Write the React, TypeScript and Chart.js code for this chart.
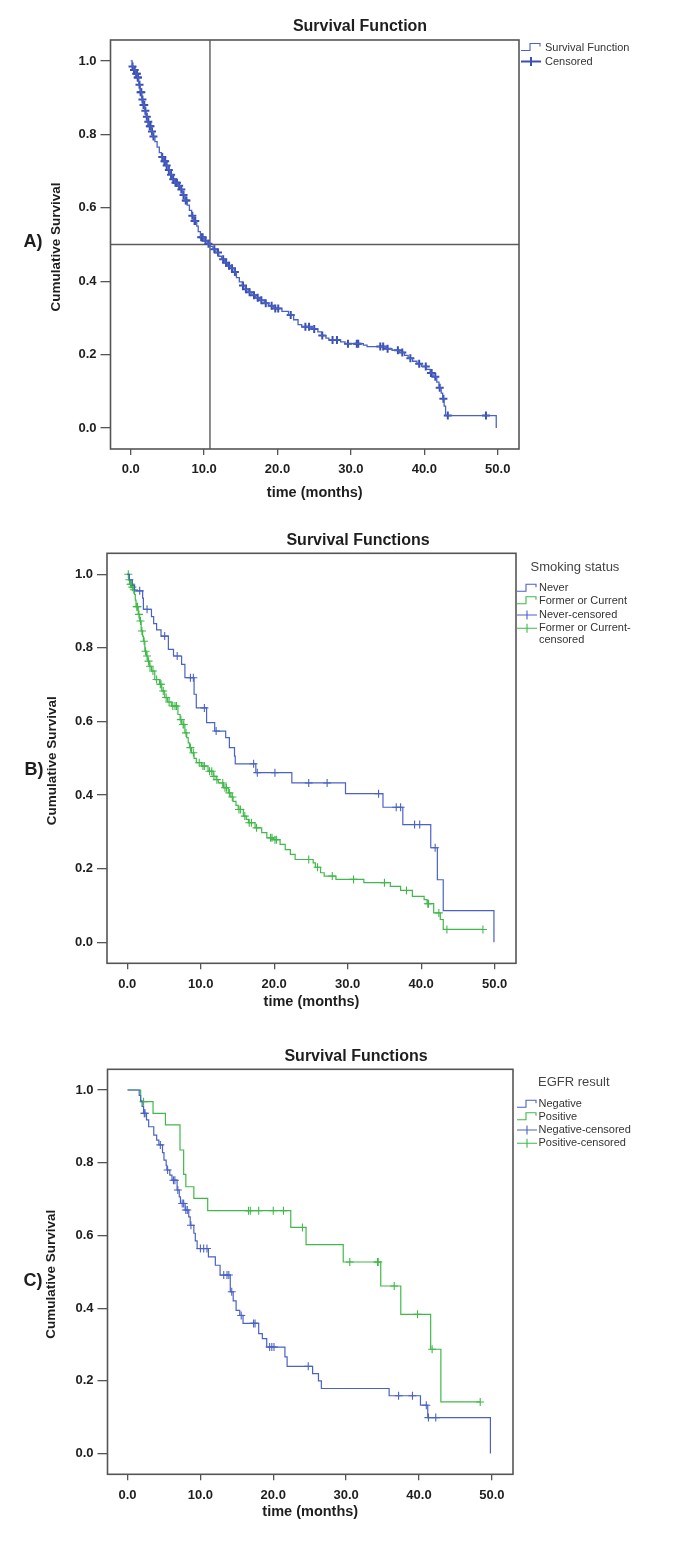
import React, { useEffect, useRef } from "react";
import { Chart, registerables } from "chart.js";

Chart.register(...registerables);

const FONT = "Arial, 'Liberation Sans', Helvetica, sans-serif";

// ---------- shared axes ----------
const xTickValues = [0, 10, 20, 30, 40, 50];
const yTickValues = [0, 0.2, 0.4, 0.6, 0.8, 1.0];
const xMin = -2.75;
const xMax = 52.9;
const yMin = -0.057;
const yMax = 1.057;

// ---------- Panel A: overall survival ----------
const aTimes = [0, 0.2, 0.4, 0.7, 0.9, 1.1, 1.3, 1.5, 1.7, 1.9, 2.1, 2.3, 2.5, 2.8, 3.0, 3.3, 3.6, 3.9, 4.2, 4.5, 4.8, 5.1, 5.4, 5.7, 6.0, 6.4, 6.8, 7.1, 7.4, 7.7, 8.0, 8.3, 8.6, 9.0, 9.2, 9.5, 10.0, 10.5, 10.8, 11.2, 11.6, 12.0, 12.4, 12.8, 13.2, 13.7, 14.1, 14.4, 14.8, 15.2, 15.6, 16.0, 16.5, 17.0, 17.6, 18.2, 18.8, 19.5, 20.6, 21.5, 22.2, 22.8, 23.3, 24.7, 25.5, 26.0, 26.6, 27.0, 28.6, 29.2, 31.7, 32.2, 34.8, 35.6, 36.6, 37.3, 37.8, 38.4, 39.0, 39.6, 40.3, 40.8, 41.2, 41.7, 42.0, 42.3, 42.5, 42.7, 42.9, 49.8];
const aSurv = [1.0, 0.985, 0.975, 0.965, 0.955, 0.935, 0.915, 0.895, 0.88, 0.864, 0.848, 0.834, 0.822, 0.808, 0.794, 0.78, 0.765, 0.75, 0.738, 0.727, 0.715, 0.703, 0.69, 0.678, 0.668, 0.66, 0.65, 0.635, 0.62, 0.607, 0.593, 0.578, 0.564, 0.55, 0.535, 0.52, 0.51, 0.502, 0.495, 0.487, 0.478, 0.468, 0.46, 0.45, 0.442, 0.435, 0.425, 0.41, 0.398, 0.388, 0.378, 0.37, 0.362, 0.355, 0.348, 0.34, 0.333, 0.326, 0.318, 0.308, 0.295, 0.282, 0.276, 0.27, 0.262, 0.252, 0.245, 0.24, 0.235, 0.23, 0.226, 0.222, 0.216, 0.212, 0.206, 0.198, 0.19, 0.182, 0.175, 0.168, 0.16, 0.15, 0.14, 0.125, 0.11, 0.095, 0.08, 0.06, 0.034, 0.0];
const aCensTimes = [0.25, 0.45, 0.55, 0.75, 0.85, 0.95, 1.0, 1.2, 1.35, 1.45, 1.6, 1.75, 1.85, 2.0, 2.2, 2.4, 2.6, 2.7, 2.9, 3.1, 4.3, 4.6, 4.7, 4.9, 5.2, 5.5, 5.8, 6.1, 6.3, 6.6, 6.9, 7.2, 7.5, 7.6, 8.4, 8.7, 8.8, 9.6, 9.8, 10.2, 10.6, 11.4, 11.9, 12.6, 13.0, 13.4, 13.8, 14.2, 15.3, 15.7, 16.2, 16.8, 17.3, 17.8, 18.4, 19.2, 19.7, 20.1, 21.8, 23.8, 24.3, 25.0, 26.1, 27.5, 28.1, 29.6, 30.8, 31.0, 34.0, 34.4, 35.0, 36.4, 37.0, 38.1, 39.3, 40.2, 40.9, 41.0, 41.5, 42.1, 42.6, 43.2, 48.4];
const aCensSurv = [0.985, 0.975, 0.975, 0.965, 0.965, 0.955, 0.955, 0.935, 0.915, 0.915, 0.895, 0.88, 0.88, 0.864, 0.848, 0.834, 0.822, 0.822, 0.808, 0.794, 0.738, 0.727, 0.727, 0.715, 0.703, 0.69, 0.678, 0.668, 0.668, 0.66, 0.65, 0.635, 0.62, 0.62, 0.578, 0.564, 0.564, 0.52, 0.52, 0.51, 0.502, 0.487, 0.478, 0.46, 0.45, 0.442, 0.435, 0.425, 0.388, 0.378, 0.37, 0.362, 0.355, 0.348, 0.34, 0.333, 0.326, 0.326, 0.308, 0.276, 0.276, 0.27, 0.252, 0.24, 0.24, 0.23, 0.23, 0.23, 0.222, 0.222, 0.216, 0.212, 0.206, 0.19, 0.175, 0.168, 0.15, 0.15, 0.14, 0.11, 0.08, 0.034, 0.034];
const aMedianTime = 10.8;
const aMedianSurv = 0.5;

// ---------- Panel B: smoking status ----------
const bNeverTimes = [0, 0.3, 0.7, 1.0, 2.1, 2.2, 3.3, 3.6, 4.0, 4.6, 5.6, 6.3, 7.4, 7.85, 9.1, 9.4, 10.8, 11.9, 13.4, 13.9, 14.6, 14.7, 17.5, 22.4, 29.7, 34.8, 37.5, 41.3, 42.2, 43.0, 49.9];
const bNeverSurv = [1.0, 0.985, 0.97, 0.955, 0.935, 0.905, 0.885, 0.866, 0.849, 0.832, 0.796, 0.778, 0.755, 0.719, 0.674, 0.637, 0.597, 0.574, 0.556, 0.529, 0.506, 0.485, 0.461, 0.433, 0.404, 0.367, 0.32, 0.257, 0.17, 0.086, 0.0];
const bNeverCensTimes = [1.7, 2.7, 5.1, 6.8, 8.6, 9.0, 10.5, 12.1, 17.2, 17.7, 20.1, 24.7, 27.2, 34.2, 36.6, 37.2, 39.1, 39.8, 41.9];
const bNeverCensSurv = [0.955, 0.905, 0.832, 0.778, 0.719, 0.719, 0.637, 0.574, 0.485, 0.461, 0.461, 0.433, 0.433, 0.404, 0.367, 0.367, 0.32, 0.32, 0.257];
const bFormerTimes = [0, 0.2, 0.35, 0.6, 0.8, 1.0, 1.1, 1.2, 1.5, 1.7, 1.9, 2.1, 2.2, 2.4, 2.6, 2.8, 3.0, 3.3, 3.75, 4.4, 4.7, 5.1, 5.5, 6.0, 6.9, 7.2, 7.4, 7.85, 8.1, 8.3, 8.5, 8.75, 9.1, 9.4, 10.1, 11.0, 11.7, 12.1, 12.4, 13.1, 13.75, 14.1, 14.4, 14.8, 15.1, 15.8, 16.2, 16.5, 17.4, 18.3, 19.0, 19.9, 20.8, 21.5, 22.2, 22.85, 25.3, 25.6, 26.3, 26.8, 28.4, 32.2, 35.8, 37.2, 38.8, 40.4, 40.8, 41.7, 42.6, 43.0, 48.4];
const bFormerSurv = [1.0, 0.985, 0.973, 0.965, 0.958, 0.945, 0.93, 0.912, 0.891, 0.873, 0.846, 0.832, 0.818, 0.791, 0.778, 0.764, 0.75, 0.737, 0.714, 0.701, 0.683, 0.665, 0.653, 0.642, 0.619, 0.605, 0.592, 0.569, 0.556, 0.542, 0.529, 0.515, 0.5, 0.488, 0.479, 0.465, 0.451, 0.442, 0.433, 0.42, 0.406, 0.395, 0.383, 0.372, 0.361, 0.343, 0.334, 0.325, 0.311, 0.298, 0.284, 0.279, 0.266, 0.252, 0.239, 0.225, 0.216, 0.204, 0.189, 0.18, 0.171, 0.162, 0.152, 0.141, 0.125, 0.116, 0.105, 0.08, 0.062, 0.035, 0.035];
const bFormerCensTimes = [0.15, 0.3, 0.45, 0.55, 0.7, 0.9, 1.3, 1.4, 1.6, 1.8, 2.0, 2.3, 2.5, 2.7, 2.9, 3.1, 3.5, 4.0, 4.5, 4.6, 4.9, 5.3, 5.7, 6.2, 6.5, 6.7, 7.3, 7.6, 7.7, 8.0, 8.6, 9.0, 9.8, 10.3, 10.5, 11.2, 11.5, 11.8, 12.2, 13.0, 13.3, 13.5, 13.9, 14.3, 15.2, 15.4, 16.0, 16.6, 16.9, 17.6, 19.5, 19.7, 20.1, 20.3, 24.7, 25.9, 27.9, 30.8, 35.0, 38.0, 40.9, 41.0, 42.4, 43.5, 48.4];
const bFormerCensSurv = [1.0, 0.985, 0.973, 0.973, 0.965, 0.958, 0.912, 0.912, 0.891, 0.873, 0.846, 0.818, 0.791, 0.778, 0.764, 0.75, 0.737, 0.714, 0.701, 0.701, 0.683, 0.665, 0.653, 0.642, 0.642, 0.642, 0.605, 0.592, 0.592, 0.569, 0.529, 0.515, 0.488, 0.479, 0.479, 0.465, 0.465, 0.451, 0.442, 0.433, 0.42, 0.42, 0.406, 0.395, 0.361, 0.361, 0.343, 0.325, 0.325, 0.311, 0.284, 0.284, 0.279, 0.279, 0.225, 0.204, 0.18, 0.171, 0.162, 0.141, 0.105, 0.105, 0.08, 0.035, 0.035];

// ---------- Panel C: EGFR result ----------
const cNegTimes = [0, 1.6, 1.8, 2.0, 2.2, 2.6, 2.9, 3.6, 4.0, 4.3, 4.8, 5.0, 5.3, 5.4, 5.8, 6.1, 6.8, 7.1, 7.26, 7.9, 8.4, 8.6, 9.1, 9.3, 9.55, 11.1, 12.05, 12.7, 14.1, 14.5, 14.9, 15.4, 15.85, 18.0, 18.5, 19.1, 21.6, 21.9, 25.4, 26.2, 26.6, 35.9, 40.2, 41.2, 49.8];
const cNegSurv = [1.0, 0.985, 0.97, 0.955, 0.936, 0.918, 0.899, 0.876, 0.862, 0.849, 0.828, 0.807, 0.793, 0.78, 0.766, 0.752, 0.725, 0.706, 0.688, 0.67, 0.651, 0.628, 0.606, 0.585, 0.564, 0.541, 0.518, 0.491, 0.445, 0.42, 0.394, 0.38, 0.358, 0.33, 0.316, 0.293, 0.266, 0.24, 0.22, 0.2, 0.179, 0.159, 0.133, 0.099, 0.0];
const cNegCensTimes = [2.3, 2.4, 4.5, 5.5, 6.3, 6.5, 6.9, 7.5, 7.7, 8.0, 8.2, 8.7, 10.0, 10.45, 10.9, 13.2, 13.65, 13.9, 14.3, 15.6, 17.3, 17.5, 19.5, 19.8, 20.1, 24.8, 37.2, 39.1, 41.0, 41.3, 42.3];
const cNegCensSurv = [0.936, 0.936, 0.849, 0.78, 0.752, 0.752, 0.725, 0.688, 0.688, 0.67, 0.67, 0.628, 0.564, 0.564, 0.564, 0.491, 0.491, 0.491, 0.445, 0.38, 0.358, 0.358, 0.293, 0.293, 0.293, 0.24, 0.159, 0.159, 0.133, 0.099, 0.099];
const cPosTimes = [0, 1.8, 3.5, 5.2, 7.2, 7.7, 8.0, 9.1, 11.0, 22.4, 24.5, 29.6, 34.75, 37.5, 41.6, 43.0, 48.4];
const cPosSurv = [1.0, 0.968, 0.936, 0.904, 0.835, 0.768, 0.734, 0.702, 0.668, 0.622, 0.575, 0.527, 0.461, 0.383, 0.287, 0.142, 0.142];
const cPosCensTimes = [2.2, 16.6, 16.85, 18.0, 20.0, 21.4, 24.0, 30.5, 34.3, 34.4, 36.6, 39.8, 41.8, 48.4];
const cPosCensSurv = [0.968, 0.668, 0.668, 0.668, 0.668, 0.668, 0.622, 0.527, 0.527, 0.527, 0.461, 0.383, 0.287, 0.142];

// ---------- styling ----------
const BLUE = "#4a62c6";
const BLUE_DARK = "#3b50b2";
const GREEN = "#40b94a";
const AXIS_GRAY = "#555555";
const TEXT = "#1e1e1e";
const LEGEND_TEXT = "#333333";

type LegendEntry = { label: string; label2?: string; color: string; kind: "step" | "cross"; y: number; bold?: boolean };
type Panel = {
  key: string;
  top: number;
  height: number;
  area: { left: number; right: number; top: number; bottom: number };
  title: string;
  titleX: number;
  titleY: number;
  letter: string;
  letterX: number;
  letterY: number;
  yTitleX: number;
  xTitleY: number;
  legendTitle?: string;
  legendTitleX?: number;
  legendTitleY?: number;
  symX: number;
  textX: number;
  entries: LegendEntry[];
  datasets: any[];
  refLine?: { x: number; y: number };
};

function pts(t: number[], s: number[]) {
  return t.map((x, i) => ({ x, y: s[i] }));
}
// Kaplan-Meier step: hold the previous level until the next event time, then drop.
function stepDs(t: number[], s: number[], color: string, width: number) {
  return {
    data: pts(t, s),
    borderColor: color,
    borderWidth: width,
    stepped: "before",
    pointRadius: 0,
    fill: false,
    tension: 0,
    showLine: true,
  };
}
function censDs(t: number[], s: number[], color: string, width: number, radius: number) {
  return {
    data: pts(t, s),
    showLine: false,
    pointStyle: "cross",
    pointRadius: radius,
    pointBorderWidth: width,
    borderWidth: width,
    borderColor: color,
    backgroundColor: color,
    pointBorderColor: color,
  };
}

const panels: Panel[] = [
  {
    key: "A",
    top: 0,
    height: 520,
    area: { left: 110.5, right: 519, top: 40, bottom: 449 },
    title: "Survival Function",
    titleX: 360,
    titleY: 27,
    letter: "A)",
    letterX: 33,
    letterY: 242,
    yTitleX: 56,
    xTitleY: 493,
    symX: 521,
    textX: 545,
    entries: [
      { label: "Survival Function", color: BLUE, kind: "step", y: 47.5 },
      { label: "Censored", color: BLUE_DARK, kind: "cross", y: 61.5, bold: true },
    ],
    datasets: [
      stepDs(aTimes, aSurv, BLUE, 1.3),
      censDs(aCensTimes, aCensSurv, BLUE_DARK, 2, 4),
    ],
    refLine: { x: aMedianTime, y: aMedianSurv },
  },
  {
    key: "B",
    top: 520,
    height: 520,
    area: { left: 107, right: 516, top: 33.3, bottom: 443.3 },
    title: "Survival Functions",
    titleX: 358,
    titleY: 21,
    letter: "B)",
    letterX: 34,
    letterY: 250,
    yTitleX: 52,
    xTitleY: 482,
    legendTitle: "Smoking status",
    legendTitleX: 530.5,
    legendTitleY: 47.5,
    symX: 517,
    textX: 539,
    entries: [
      { label: "Never", color: BLUE, kind: "step", y: 68.3 },
      { label: "Former or Current", color: GREEN, kind: "step", y: 80.7 },
      { label: "Never-censored", color: BLUE, kind: "cross", y: 95 },
      { label: "Former or Current-", label2: "censored", color: GREEN, kind: "cross", y: 108.3 },
    ],
    datasets: [
      stepDs(bNeverTimes, bNeverSurv, BLUE, 1.2),
      stepDs(bFormerTimes, bFormerSurv, GREEN, 1.2),
      censDs(bNeverCensTimes, bNeverCensSurv, BLUE, 1.1, 4),
      censDs(bFormerCensTimes, bFormerCensSurv, GREEN, 1.1, 4),
    ],
  },
  {
    key: "C",
    top: 1040,
    height: 517,
    area: { left: 107.5, right: 513, top: 29.3, bottom: 434.3 },
    title: "Survival Functions",
    titleX: 356,
    titleY: 17,
    letter: "C)",
    letterX: 33,
    letterY: 241,
    yTitleX: 51,
    xTitleY: 472,
    legendTitle: "EGFR result",
    legendTitleX: 538,
    legendTitleY: 42.3,
    symX: 517,
    textX: 538.5,
    entries: [
      { label: "Negative", color: BLUE, kind: "step", y: 64.3 },
      { label: "Positive", color: GREEN, kind: "step", y: 76.7 },
      { label: "Negative-censored", color: BLUE, kind: "cross", y: 90 },
      { label: "Positive-censored", color: GREEN, kind: "cross", y: 103.3 },
    ],
    datasets: [
      stepDs(cNegTimes, cNegSurv, BLUE, 1.2),
      stepDs(cPosTimes, cPosSurv, GREEN, 1.2),
      censDs(cNegCensTimes, cNegCensSurv, BLUE, 1.1, 4),
      censDs(cPosCensTimes, cPosCensSurv, GREEN, 1.1, 4),
    ],
  },
];

function makeDecor(p: Panel) {
  return {
    id: "decor" + p.key,
    beforeDatasetsDraw(chart: any) {
      if (!p.refLine) return;
      const { ctx, chartArea: a, scales } = chart;
      const px = scales.x.getPixelForValue(p.refLine.x);
      const py = scales.y.getPixelForValue(p.refLine.y);
      ctx.save();
      ctx.strokeStyle = "#5c5c5c";
      ctx.lineWidth = 1.4;
      ctx.beginPath();
      ctx.moveTo(px, a.top);
      ctx.lineTo(px, a.bottom);
      ctx.moveTo(a.left, py);
      ctx.lineTo(a.right, py);
      ctx.stroke();
      ctx.restore();
    },
    afterDraw(chart: any) {
      const { ctx, chartArea: a } = chart;
      ctx.save();
      // frame
      ctx.strokeStyle = AXIS_GRAY;
      ctx.lineWidth = 1.6;
      ctx.strokeRect(a.left, a.top, a.right - a.left, a.bottom - a.top);

      // title
      ctx.fillStyle = TEXT;
      ctx.textAlign = "center";
      ctx.textBaseline = "middle";
      ctx.font = `bold 16px ${FONT}`;
      ctx.fillText(p.title, p.titleX, p.titleY);

      // x title
      ctx.font = `bold 14.5px ${FONT}`;
      ctx.fillText("time (months)", (a.left + a.right) / 2, p.xTitleY);

      // y title
      ctx.save();
      ctx.translate(p.yTitleX, (a.top + a.bottom) / 2 + 2.5);
      ctx.rotate(-Math.PI / 2);
      ctx.font = `bold 13.5px ${FONT}`;
      ctx.fillText("Cumulative Survival", 0, 0);
      ctx.restore();

      // panel letter
      ctx.font = `bold 18px ${FONT}`;
      ctx.fillText(p.letter, p.letterX, p.letterY);

      // legend
      ctx.textAlign = "left";
      if (p.legendTitle) {
        ctx.fillStyle = "#444444";
        ctx.font = `13px ${FONT}`;
        ctx.fillText(p.legendTitle, p.legendTitleX, p.legendTitleY);
      }
      ctx.font = `11px ${FONT}`;
      for (const e of p.entries) {
        const x = p.symX;
        const y = e.y;
        ctx.strokeStyle = e.color;
        ctx.lineWidth = e.bold ? 2 : 1.1;
        ctx.beginPath();
        if (e.kind === "step") {
          ctx.moveTo(x, y + 3);
          ctx.lineTo(x + 9, y + 3);
          ctx.lineTo(x + 9, y - 4);
          ctx.lineTo(x + 19, y - 4);
          ctx.lineTo(x + 19, y - 1);
        } else {
          ctx.moveTo(x, y);
          ctx.lineTo(x + 20, y);
          ctx.moveTo(x + 10, y - 4.5);
          ctx.lineTo(x + 10, y + 4.5);
        }
        ctx.stroke();
        ctx.fillStyle = LEGEND_TEXT;
        ctx.fillText(e.label, p.textX, y);
        if (e.label2) ctx.fillText(e.label2, p.textX, y + 11.5);
      }
      ctx.restore();
    },
  };
}

function buildConfig(p: Panel): any {
  const tickFont = { family: FONT, size: 13, weight: "bold" as const };
  return {
    type: "line",
    data: { datasets: p.datasets },
    options: {
      animation: false,
      responsive: false,
      maintainAspectRatio: false,
      devicePixelRatio: 1,
      events: [],
      layout: { padding: { left: 0, top: p.area.top, right: 675 - p.area.right, bottom: 0 } },
      plugins: { legend: { display: false }, tooltip: { enabled: false }, title: { display: false } },
      scales: {
        x: {
          type: "linear",
          min: xMin,
          max: xMax,
          afterBuildTicks: (s: any) => {
            s.ticks = xTickValues.map((v) => ({ value: v }));
          },
          afterFit: (s: any) => {
            s.height = p.height - p.area.bottom;
          },
          ticks: {
            callback: (v: any) => Number(v).toFixed(1),
            font: tickFont,
            color: TEXT,
            padding: 7,
            maxRotation: 0,
            autoSkip: false,
          },
          grid: { drawOnChartArea: false, drawTicks: true, tickLength: 6, color: AXIS_GRAY, lineWidth: 1.3 },
          border: { display: false },
          title: { display: false },
        },
        y: {
          type: "linear",
          min: yMin,
          max: yMax,
          afterBuildTicks: (s: any) => {
            s.ticks = yTickValues.map((v) => ({ value: v }));
          },
          afterFit: (s: any) => {
            s.width = p.area.left;
          },
          ticks: {
            callback: (v: any) => Number(v).toFixed(1),
            font: tickFont,
            color: TEXT,
            padding: 4,
            autoSkip: false,
          },
          grid: { drawOnChartArea: false, drawTicks: true, tickLength: 10, color: AXIS_GRAY, lineWidth: 1.3 },
          border: { display: false },
          title: { display: false },
        },
      },
    },
    plugins: [makeDecor(p)],
  };
}

function PanelChart({ panel }: { panel: Panel }) {
  const ref = useRef<HTMLCanvasElement>(null);
  useEffect(() => {
    if (!ref.current) return;
    const chart = new Chart(ref.current, buildConfig(panel));
    return () => chart.destroy();
  }, [panel]);
  return (
    <canvas
      ref={ref}
      width={675}
      height={panel.height}
      style={{ position: "absolute", left: 0, top: panel.top, width: 675, height: panel.height }}
    />
  );
}

export default function App() {
  return (
    <div style={{ position: "absolute", left: 0, top: 0, width: 675, height: 1557, background: "#ffffff" }}>
      {panels.map((p) => (
        <PanelChart key={p.key} panel={p} />
      ))}
    </div>
  );
}
